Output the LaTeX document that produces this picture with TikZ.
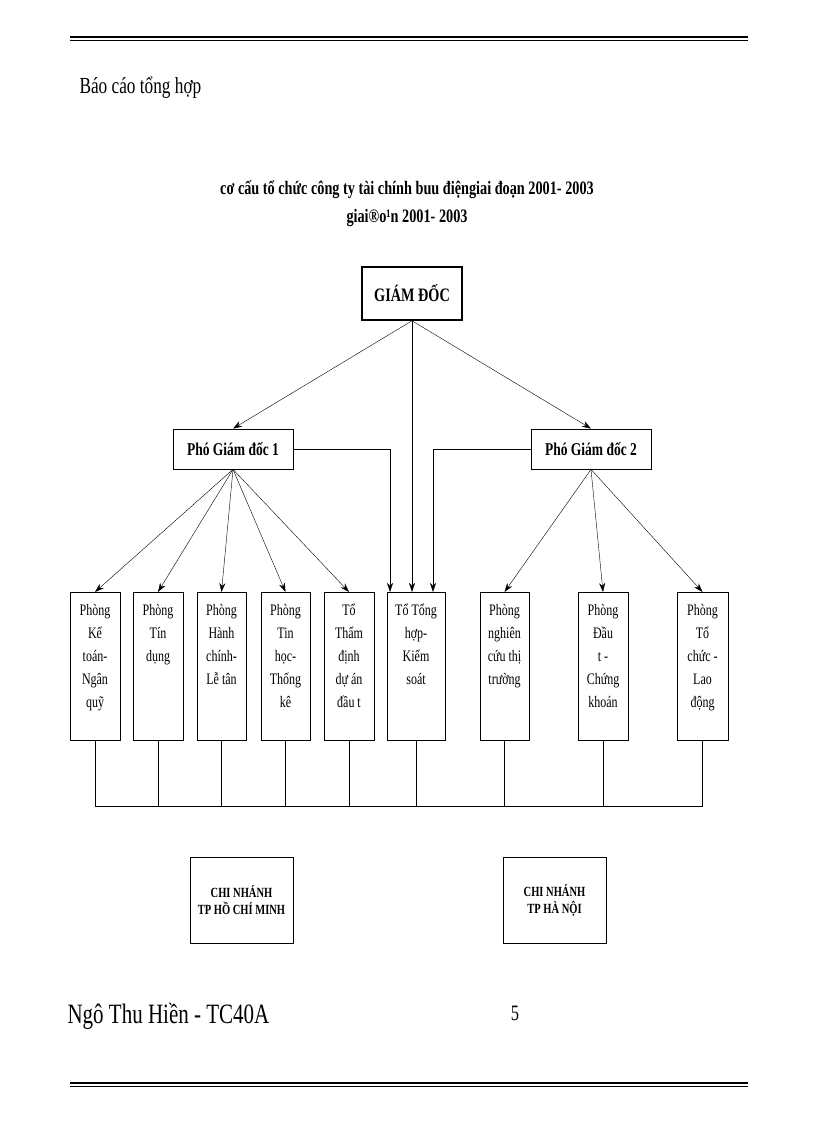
\documentclass[tikz,border=0pt]{standalone}
\usepackage{fontspec}
\setmainfont{Liberation Serif}[FakeStretch=0.75]
\usetikzlibrary{arrows.meta}
\begin{document}
\begin{tikzpicture}[x=1pt,y=-1pt,
  box/.style={draw,thick,align=center,inner sep=0pt},
  arr/.style={-{Stealth[length=9pt,width=6pt]},thin},
  ln/.style={thin}]
\useasboundingbox (0,0) rectangle (816,1123);
\draw[line width=1.2pt] (70,37)--(748,37);\draw[line width=0.6pt] (70,40.5)--(748,40.5);
\draw[line width=1.2pt] (70,1083)--(748,1083);\draw[line width=0.6pt] (70,1086.5)--(748,1086.5);
\node[anchor=west,font=\fontsize{23}{25}\selectfont] (hdr) at (76,88) {Báo cáo tổng hợp};
\node[align=center,font=\bfseries\fontsize{19}{28}\selectfont] (title) at (407,204) {cơ cấu tổ chức công ty tài chính buu điệngiai đoạn 2001- 2003\\giai®o¹n 2001- 2003};
\node[box,line width=1.6pt,minimum width=100,minimum height=53,font=\bfseries\fontsize{19}{21}\selectfont] (gd) at (412,293.5) {GIÁM ĐỐC};
\node[box,minimum width=120,minimum height=40,font=\bfseries\fontsize{18}{20}\selectfont] (p1) at (233,449) {Phó Giám đốc 1};
\node[box,minimum width=120,minimum height=40,font=\bfseries\fontsize{18}{20}\selectfont] (p2) at (591,449) {Phó Giám đốc 2};
\tikzset{dep/.style={draw,thick,anchor=north,minimum height=148,inner sep=0pt},
  deptxt/.style={anchor=north,align=center,inner sep=0pt,font=\fontsize{16}{23}\selectfont}}
\foreach \n/\x/\w/\t in {b1/95/50/{Phòng\\Kế\\toán-\\Ngân\\quỹ},b2/158/50/{Phòng\\Tín\\dụng},b3/221.5/49/{Phòng\\Hành\\chính-\\Lễ tân},b4/285.5/49/{Phòng\\Tin\\học-\\Thống\\kê},b5/349/50/{Tổ\\Thẩm\\định\\dự án\\đầu t},b6/416/58/{Tổ Tổng\\hợp-\\Kiểm\\soát},b7/504.5/49/{Phòng\\nghiên\\cứu thị\\trường},b8/603/50/{Phòng\\Đầu\\t -\\Chứng\\khoán},b9/702.5/51/{Phòng\\Tổ\\chức -\\Lao\\động}}
  {\node[dep,minimum width=\w] (\n) at (\x,592) {};
   \node[deptxt] (\n t) at (\x,604) {\t};}
\draw[arr] (gd.south) -- (p1.north);
\draw[arr] (gd.south) -- (p2.north);
\draw[arr] (gd.south) -- (gd.south|-b6.north);
\coordinate (c1) at (390,449); \coordinate (c2) at (433,449);
\draw[arr] (p1.east) -- (c1) -- (c1|-b6.north);
\draw[arr] (p2.west) -- (c2) -- (c2|-b6.north);
\foreach \b in {b1,b2,b3,b4,b5} \draw[arr] (p1.south) -- (\b.north);
\foreach \b in {b7,b8,b9} \draw[arr] (p2.south) -- (\b.north);
\coordinate (hl) at (95,806); \coordinate (hr) at (702.5,806);
\draw[ln] (hl) -- (hr);
\foreach \b in {b1,b2,b3,b4,b5,b6,b7,b8,b9} \draw[ln] (\b.south) -- (\b.south|-hl);
\node[box,minimum width=103,minimum height=86,font=\bfseries\fontsize{14}{17}\selectfont] (cn1) at (241.5,900) {CHI NHÁNH\\TP HỒ CHÍ MINH};
\node[box,minimum width=103,minimum height=86,font=\bfseries\fontsize{14}{17}\selectfont] (cn2) at (554.5,900) {CHI NHÁNH\\TP HÀ NỘI};
\node[anchor=west,font=\fontsize{28}{30}\selectfont] (ft) at (64,1016) {Ngô Thu Hiền - TC40A};
\node[font=\fontsize{22}{24}\selectfont] (pg) at (515,1013) {5};
\end{tikzpicture}
\end{document}
